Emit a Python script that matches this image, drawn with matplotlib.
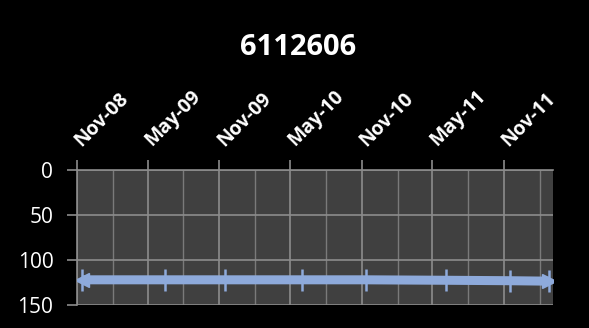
import numpy as np
import pandas as pd
import matplotlib
matplotlib.use("Agg")
import matplotlib.pyplot as plt
import matplotlib.dates as mdates
import matplotlib.transforms as mtransforms

plt.rcParams['font.family'] = ['Open Sans', 'DejaVu Sans']

# --- données ---
title = "6112606"
dates = pd.to_datetime(["2008-11-15", "2009-06-15", "2009-11-15", "2010-06-01",
                        "2010-11-12", "2011-06-05", "2011-11-15", "2012-02-25"])
depth = [122, 122, 122, 122, 122, 122.5, 123, 123.5]
x_start, x_end = pd.Timestamp("2008-11-01"), pd.Timestamp("2012-03-05")
y_ticks = [0, 50, 100, 150]

fig = plt.figure(figsize=(5.89, 3.28), dpi=100)
fig.patch.set_facecolor("black")
ax = fig.add_axes([0.1307, 0.070, 0.808, 0.412])
ax.set_facecolor("#404040")

line_col = "#8eaadb"
ax.plot(dates, depth, color=line_col, lw=6.5, solid_capstyle="butt", zorder=3)
ax.plot(dates, depth, ls="none", marker="|", ms=16, mew=1.8,
        color=line_col, zorder=4)
ax.plot(dates[:1], depth[:1], ls="none", marker="<", ms=10, color=line_col, zorder=4)
ax.plot(dates[-1:], depth[-1:], ls="none", marker=">", ms=10, color=line_col, zorder=4)

ax.set_xlim(x_start, x_end)
ax.set_ylim(150, 0)
ax.set_yticks(y_ticks)

ax.xaxis.set_major_locator(mdates.MonthLocator(bymonth=[5, 11]))
ax.xaxis.set_minor_locator(mdates.MonthLocator(bymonth=[2, 8]))
ax.xaxis.set_major_formatter(mdates.DateFormatter("%b-%y"))
ax.xaxis.tick_top()

ax.grid(True, which="major", color="#8c8c8c", lw=1.2)
ax.grid(True, which="minor", axis="x", color="#7a7a7a", lw=1.0)
ax.set_axisbelow(True)

for s in ["right", "bottom"]:
    ax.spines[s].set_visible(False)
for s in ["top", "left"]:
    ax.spines[s].set_color("#8c8c8c")
    ax.spines[s].set_linewidth(1.2)

ax.tick_params(axis="x", which="major", colors="#8c8c8c", length=7, width=1.2,
               labelcolor="white", labelsize=14, pad=7)
ax.tick_params(axis="x", which="minor", length=0)
ax.tick_params(axis="y", colors="#8c8c8c", length=7, width=1.2,
               labelcolor="white", labelsize=15, pad=10)
shift = mtransforms.ScaledTranslation(8 / 100, 0, fig.dpi_scale_trans)
for lab in ax.get_xticklabels():
    lab.set_rotation(45)
    lab.set_ha("left")
    lab.set_va("bottom")
    lab.set_rotation_mode("anchor")
    lab.set_fontweight("bold")
    lab.set_transform(lab.get_transform() + shift)

fig.text(0.506, 0.855, title, color="white", fontsize=21, fontweight="bold",
         ha="center", va="center")

fig.savefig("out.png", dpi=100, facecolor="black")
